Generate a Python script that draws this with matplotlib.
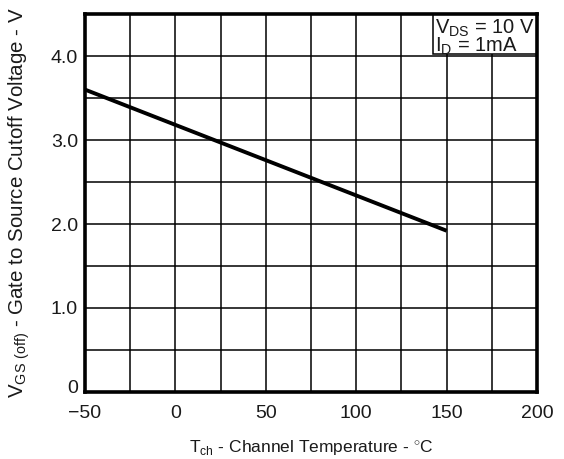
import matplotlib.pyplot as plt
import matplotlib.transforms as mtransforms
from matplotlib.patches import Rectangle
import numpy as np

# Datos
temp_ch = [-50, 150]
vgs_off = [3.60, 1.92]

x_ticks = [-50, 0, 50, 100, 150, 200]
x_labels = ["\u221250", "0", "50", "100", "150", "200"]
y_ticks = [0, 1, 2, 3, 4]
y_labels = ["0", "1.0", "2.0", "3.0", "4.0"]

plt.rcParams['font.family'] = ['Liberation Sans', 'DejaVu Sans']
plt.rcParams['mathtext.fontset'] = 'custom'
plt.rcParams['mathtext.rm'] = 'Liberation Sans'

txt_color = '#1a1a1a'

fig = plt.figure(figsize=(5.64, 4.59), dpi=100)
ax = fig.add_axes([85 / 564, 1 - 392 / 459, (537 - 85) / 564, (392 - 14) / 459])

ax.plot(temp_ch, vgs_off, color='black', lw=2.8, solid_capstyle='butt', zorder=3)

ax.set_xlim(-50, 200)
ax.set_ylim(0, 4.5)
ax.set_xticks(np.arange(-50, 201, 25), minor=True)
ax.set_yticks(np.arange(0, 4.51, 0.5), minor=True)
ax.set_xticks(x_ticks)
ax.set_xticklabels(x_labels)
ax.set_yticks(y_ticks)
ax.set_yticklabels(y_labels)
ax.tick_params(which='both', length=0, labelsize=14, colors=txt_color)
ax.tick_params(axis='x', pad=9)
ax.tick_params(axis='y', pad=5)
ax.grid(which='both', color='black', lw=1.1)
ax.set_axisbelow(True)
for s in ax.spines.values():
    s.set_linewidth(2.6)
    s.set_zorder(5)

# el "0" del eje y va un poco mas arriba, como en la figura
lbl0 = ax.get_yticklabels()[0]
lbl0.set_transform(lbl0.get_transform() + mtransforms.ScaledTranslation(0, 4 / 72, fig.dpi_scale_trans))

ax.set_xlabel(r"T$_{\mathrm{ch}}$ - Channel Temperature - $^{\circ}$C", fontsize=12.5, color=txt_color, labelpad=12)
ax.set_ylabel(r"V$_{\mathrm{GS\ (off)}}$ - Gate to Source Cutoff Voltage - V", fontsize=14.8, color=txt_color)
ax.yaxis.set_label_coords(-0.118, 0.5)

# recuadro de condiciones
x0 = (433 - 85) / 452
y0 = (392 - 54) / 378
ax.add_patch(Rectangle((x0, y0), 1 - x0, 1 - y0, transform=ax.transAxes,
                       fc='white', ec='black', lw=1.1, zorder=4))
ax.text(x0 + 0.004, 0.99, "V$_{\\mathrm{DS}}$ = 10 V\nI$_{\\mathrm{D}}$ = 1mA", transform=ax.transAxes,
        ha='left', va='top', fontsize=14.5, linespacing=0.8, zorder=6, color=txt_color)

fig.savefig('out.png', dpi=100)
